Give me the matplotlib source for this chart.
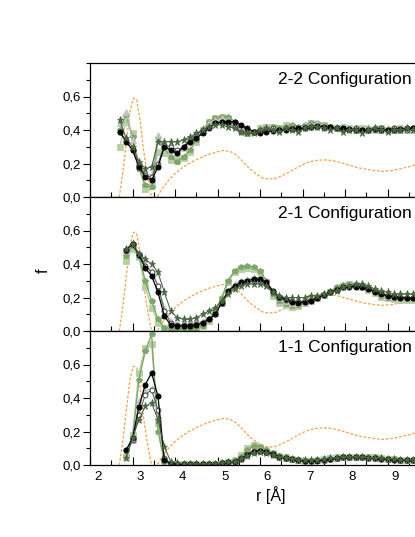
import matplotlib
matplotlib.use("Agg")
import matplotlib.pyplot as plt
from matplotlib.ticker import FixedLocator, MultipleLocator
from matplotlib.transforms import ScaledTranslation

plt.rcParams['font.family'] = ['Liberation Sans', 'DejaVu Sans']

# r grid of the simulation points (2-2 panel starts one step earlier)
R1 = [2.70, 2.85, 3.00, 3.15, 3.30, 3.45, 3.60, 3.75, 3.90, 4.05, 4.20, 4.35,
      4.50, 4.65, 4.80, 4.95, 5.10, 5.25, 5.40, 5.55, 5.70, 5.85, 6.00, 6.15,
      6.30, 6.45, 6.60, 6.75, 6.90, 7.05, 7.20, 7.35, 7.50, 7.65, 7.80, 7.95,
      8.10, 8.25, 8.40, 8.55, 8.70, 8.85, 9.00, 9.15, 9.30, 9.45, 9.60, 9.75]
R2 = R1[1:]

# reference curve (orange dashed), same in every panel
ORANGE_R = [2.60, 2.69, 2.78, 2.86, 2.94, 3.02, 3.10, 3.18, 3.25, 3.33, 3.43, 3.50,
            3.58, 3.70, 3.85, 4.00, 4.20, 4.40, 4.60, 4.80, 5.00, 5.15, 5.30, 5.45,
            5.60, 5.75, 5.90, 6.05, 6.20, 6.35, 6.50, 6.70, 6.90, 7.10, 7.30, 7.50,
            7.70, 7.90, 8.10, 8.30, 8.50, 8.70, 8.90, 9.10, 9.30, 9.50, 9.70]
ORANGE_F = [-0.05, 0.0, 0.16, 0.34, 0.51, 0.59, 0.58, 0.46, 0.30, 0.16, 0.02, -0.02,
            0.0, 0.05, 0.10, 0.14, 0.18, 0.21, 0.235, 0.255, 0.27, 0.278, 0.272, 0.25,
            0.21, 0.17, 0.14, 0.115, 0.107, 0.11, 0.125, 0.15, 0.18, 0.205, 0.218, 0.222,
            0.218, 0.205, 0.19, 0.175, 0.165, 0.157, 0.153, 0.158, 0.168, 0.18, 0.195]

# 2-2 configuration
P1_BLACK = [0.39, 0.33, 0.28, 0.18, 0.12, 0.10, 0.18, 0.30, 0.28, 0.26, 0.30, 0.33,
            0.35, 0.38, 0.41, 0.44, 0.45, 0.45, 0.45, 0.43, 0.41, 0.39, 0.385, 0.39,
            0.395, 0.40, 0.40, 0.405, 0.41, 0.41, 0.415, 0.425, 0.42, 0.415, 0.41, 0.41,
            0.405, 0.40, 0.40, 0.40, 0.405, 0.40, 0.40, 0.40, 0.405, 0.41, 0.41, 0.41]
P1_STAR = [0.46, 0.35, 0.30, 0.21, 0.17, 0.18, 0.33, 0.33, 0.33, 0.33, 0.34, 0.36,
           0.38, 0.40, 0.42, 0.43, 0.43, 0.42, 0.41, 0.39, 0.38, 0.38, 0.40, 0.41,
           0.40, 0.39, 0.41, 0.40, 0.39, 0.41, 0.42, 0.42, 0.41, 0.40, 0.41, 0.39,
           0.40, 0.40, 0.38, 0.40, 0.41, 0.40, 0.39, 0.40, 0.40, 0.41, 0.40, 0.40]
P1_GRAY = [0.44, 0.51, 0.34, 0.20, 0.14, 0.13, 0.37, 0.30, 0.28, 0.26, 0.29, 0.33,
           0.37, 0.41, 0.44, 0.46, 0.47, 0.46, 0.44, 0.41, 0.39, 0.39, 0.40, 0.42,
           0.41, 0.40, 0.42, 0.42, 0.41, 0.43, 0.43, 0.44, 0.43, 0.42, 0.41, 0.42,
           0.41, 0.40, 0.41, 0.42, 0.41, 0.40, 0.41, 0.40, 0.40, 0.41, 0.41, 0.41]
P1_GREEN = [0.40, 0.49, 0.36, 0.17, 0.07, 0.06, 0.35, 0.29, 0.24, 0.21, 0.24, 0.28,
            0.34, 0.40, 0.45, 0.47, 0.48, 0.48, 0.45, 0.41, 0.38, 0.38, 0.40, 0.41,
            0.42, 0.41, 0.42, 0.43, 0.42, 0.43, 0.44, 0.44, 0.43, 0.42, 0.41, 0.41,
            0.40, 0.41, 0.40, 0.41, 0.40, 0.41, 0.40, 0.41, 0.40, 0.40, 0.41, 0.41]
P1_LIGHT = [0.30, 0.45, 0.38, 0.20, 0.05, 0.07, 0.27, 0.26, 0.22, 0.22, 0.23, 0.27,
            0.33, 0.40, 0.45, 0.47, 0.48, 0.46, 0.43, 0.40, 0.38, 0.39, 0.41, 0.42,
            0.42, 0.41, 0.43, 0.42, 0.41, 0.42, 0.44, 0.43, 0.43, 0.42, 0.41, 0.42,
            0.41, 0.40, 0.41, 0.40, 0.40, 0.41, 0.40, 0.40, 0.41, 0.40, 0.40, 0.40]
P1_OPEN = [0.39, 0.34, 0.28, 0.19, 0.13, 0.12, 0.20, 0.31, 0.30, 0.28, 0.30, 0.34,
           0.37, 0.40, 0.42, 0.44, 0.445, 0.44, 0.42, 0.39, 0.38, 0.39, 0.40, 0.40,
           0.41, 0.40, 0.41, 0.41, 0.40, 0.42, 0.42, 0.42, 0.41, 0.42, 0.41, 0.40,
           0.40, 0.41, 0.40, 0.40, 0.41, 0.41, 0.40, 0.41, 0.40, 0.40, 0.41, 0.41]

# 2-1 configuration
P2_BLACK = [0.485, 0.52, 0.455, 0.375, 0.33, 0.23, 0.09, 0.035, 0.03, 0.03, 0.03, 0.035,
            0.05, 0.07, 0.10, 0.17, 0.24, 0.27, 0.29, 0.30, 0.31, 0.31, 0.29, 0.24,
            0.205, 0.19, 0.175, 0.17, 0.175, 0.18, 0.195, 0.215, 0.23, 0.245, 0.26, 0.265,
            0.265, 0.26, 0.25, 0.235, 0.22, 0.21, 0.205, 0.20, 0.20, 0.195, 0.195]
P2_STAR = [0.49, 0.52, 0.46, 0.43, 0.40, 0.35, 0.23, 0.12, 0.08, 0.07, 0.07, 0.08,
           0.10, 0.12, 0.14, 0.18, 0.22, 0.25, 0.27, 0.28, 0.28, 0.28, 0.27, 0.23,
           0.21, 0.20, 0.20, 0.20, 0.20, 0.21, 0.21, 0.22, 0.23, 0.24, 0.26, 0.27,
           0.28, 0.28, 0.27, 0.25, 0.24, 0.23, 0.22, 0.22, 0.22, 0.22, 0.21]
P2_GRAY = [0.48, 0.53, 0.46, 0.40, 0.36, 0.27, 0.14, 0.06, 0.04, 0.04, 0.04, 0.05,
           0.06, 0.08, 0.11, 0.17, 0.24, 0.28, 0.30, 0.31, 0.32, 0.32, 0.30, 0.24,
           0.20, 0.18, 0.17, 0.17, 0.17, 0.18, 0.20, 0.22, 0.24, 0.25, 0.27, 0.28,
           0.28, 0.27, 0.26, 0.24, 0.22, 0.21, 0.21, 0.20, 0.20, 0.20, 0.20]
P2_GREEN = [0.45, 0.51, 0.45, 0.30, 0.18, 0.07, 0.02, 0.01, 0.01, 0.01, 0.01, 0.015,
            0.03, 0.07, 0.12, 0.20, 0.30, 0.36, 0.385, 0.39, 0.38, 0.36, 0.30, 0.22,
            0.18, 0.16, 0.15, 0.155, 0.17, 0.185, 0.20, 0.22, 0.24, 0.26, 0.275, 0.28,
            0.275, 0.27, 0.25, 0.23, 0.21, 0.20, 0.195, 0.19, 0.19, 0.19, 0.19]
P2_LIGHT = [0.42, 0.49, 0.44, 0.26, 0.14, 0.05, 0.015, 0.01, 0.01, 0.01, 0.01, 0.015,
            0.03, 0.06, 0.11, 0.19, 0.29, 0.35, 0.37, 0.375, 0.37, 0.35, 0.29, 0.21,
            0.17, 0.155, 0.145, 0.15, 0.165, 0.18, 0.195, 0.215, 0.235, 0.255, 0.27, 0.28,
            0.275, 0.265, 0.245, 0.225, 0.205, 0.195, 0.19, 0.185, 0.185, 0.185, 0.185]
P2_OPEN = [0.48, 0.52, 0.46, 0.39, 0.35, 0.27, 0.12, 0.045, 0.035, 0.035, 0.035, 0.04,
           0.05, 0.07, 0.10, 0.17, 0.23, 0.26, 0.28, 0.29, 0.30, 0.30, 0.28, 0.23,
           0.20, 0.185, 0.18, 0.175, 0.18, 0.185, 0.20, 0.215, 0.235, 0.25, 0.26, 0.27,
           0.27, 0.265, 0.255, 0.24, 0.225, 0.215, 0.21, 0.205, 0.20, 0.20, 0.20]

# 1-1 configuration
P3_BLACK = [0.09, 0.16, 0.345, 0.48, 0.55, 0.41, 0.03, 0.01, 0.005, 0.005, 0.005, 0.005,
            0.005, 0.005, 0.008, 0.01, 0.015, 0.02, 0.035, 0.06, 0.08, 0.085, 0.08, 0.065,
            0.05, 0.04, 0.035, 0.03, 0.025, 0.025, 0.025, 0.03, 0.035, 0.04, 0.045, 0.045,
            0.045, 0.045, 0.04, 0.04, 0.035, 0.035, 0.03, 0.03, 0.03, 0.03, 0.03]
P3_STAR = [0.04, 0.16, 0.27, 0.35, 0.37, 0.27, 0.11, 0.02, 0.01, 0.005, 0.005, 0.005,
           0.005, 0.005, 0.008, 0.01, 0.015, 0.02, 0.035, 0.055, 0.07, 0.075, 0.07, 0.06,
           0.05, 0.04, 0.035, 0.03, 0.03, 0.03, 0.03, 0.035, 0.04, 0.04, 0.045, 0.045,
           0.045, 0.045, 0.04, 0.04, 0.04, 0.035, 0.035, 0.03, 0.03, 0.03, 0.03]
P3_GRAY = [0.07, 0.15, 0.38, 0.44, 0.46, 0.30, 0.04, 0.01, 0.005, 0.005, 0.005, 0.005,
           0.005, 0.005, 0.008, 0.01, 0.015, 0.025, 0.04, 0.07, 0.09, 0.09, 0.08, 0.065,
           0.05, 0.04, 0.035, 0.03, 0.025, 0.025, 0.03, 0.03, 0.035, 0.04, 0.045, 0.05,
           0.05, 0.045, 0.045, 0.04, 0.04, 0.035, 0.035, 0.03, 0.03, 0.03, 0.03]
P3_GREEN = [0.06, 0.15, 0.51, 0.68, 0.78, 0.20, 0.02, 0.005, 0.003, 0.003, 0.003, 0.003,
            0.003, 0.005, 0.008, 0.01, 0.015, 0.025, 0.05, 0.09, 0.115, 0.11, 0.09, 0.07,
            0.055, 0.045, 0.035, 0.03, 0.025, 0.025, 0.03, 0.03, 0.035, 0.04, 0.045, 0.05,
            0.05, 0.05, 0.045, 0.045, 0.04, 0.035, 0.035, 0.03, 0.03, 0.03, 0.03]
P3_LIGHT = [0.05, 0.18, 0.55, 0.70, 0.72, 0.25, 0.03, 0.005, 0.003, 0.003, 0.003, 0.003,
            0.003, 0.005, 0.008, 0.01, 0.015, 0.03, 0.06, 0.10, 0.12, 0.11, 0.09, 0.07,
            0.055, 0.045, 0.035, 0.03, 0.025, 0.025, 0.03, 0.035, 0.04, 0.045, 0.05, 0.05,
            0.05, 0.05, 0.045, 0.045, 0.04, 0.035, 0.035, 0.03, 0.03, 0.03, 0.03]
P3_OPEN = [0.09, 0.15, 0.30, 0.42, 0.45, 0.33, 0.04, 0.01, 0.005, 0.005, 0.005, 0.005,
           0.005, 0.005, 0.008, 0.01, 0.015, 0.025, 0.04, 0.065, 0.085, 0.085, 0.075, 0.06,
           0.05, 0.04, 0.035, 0.03, 0.025, 0.025, 0.03, 0.03, 0.035, 0.04, 0.045, 0.045,
           0.045, 0.045, 0.04, 0.04, 0.035, 0.035, 0.03, 0.03, 0.03, 0.03, 0.03]

TITLES = ["2-2 Configuration", "2-1 Configuration", "1-1 Configuration"]
Y_TICKS = [0.0, 0.2, 0.4, 0.6]
Y_LABELS = ["0,0", "0,2", "0,4", "0,6"]
X_TICKS = [2, 3, 4, 5, 6, 7, 8, 9]

# (key, marker, size, face, edge, line colour, line width) in drawing order
STYLES = [
    ("light", "s", 3.8, "#b5cfa4", "#b5cfa4", "#b5cfa4", 1.0),
    ("green", "p", 4.2, "#7ea66a", "#7ea66a", "#7ea66a", 1.0),
    ("gray", "^", 4.2, "#c3c3c3", "#c3c3c3", "#b5b5b5", 0.8),
    ("open", "o", 3.5, "white", "#2a2a2a", "#555555", 0.7),
    ("black", "o", 3.7, "black", "black", "black", 0.9),
    ("star", "*", 5.2, "#4b6642", "#4b6642", "#3f5638", 0.7),
]


def draw_panel(ax, r, series, title):
    ax.plot(ORANGE_R, ORANGE_F, color="#f7a04a", lw=0.9, dashes=(2.2, 1.4), zorder=1)
    for key, marker, ms, fc, ec, lc, lw in STYLES:
        ax.plot(r, series[key], color=lc, lw=lw, marker=marker, ms=ms,
                mfc=fc, mec=ec, mew=0.6, zorder=2)
    ax.set_xlim(2, 10)
    ax.set_ylim(0, 0.8)
    ax.yaxis.set_major_locator(FixedLocator(Y_TICKS))
    ax.set_yticklabels(Y_LABELS)
    ax.yaxis.set_minor_locator(MultipleLocator(0.1))
    ax.xaxis.set_major_locator(FixedLocator(X_TICKS))
    ax.xaxis.set_minor_locator(MultipleLocator(0.5))
    ax.tick_params(axis="y", which="major", direction="out", length=5, width=0.8,
                   labelsize=9.5, pad=1.5)
    ax.tick_params(axis="y", which="minor", direction="out", length=3, width=0.8)
    ax.tick_params(axis="x", which="major", direction="in", length=6, width=0.8,
                   labelsize=9.5, pad=4)
    ax.tick_params(axis="x", which="minor", direction="in", length=3.5, width=0.8)
    for sp in ax.spines.values():
        sp.set_linewidth(0.9)
    ax.spines["right"].set_visible(False)
    ax.text(0.553, 0.845, title, transform=ax.transAxes, fontsize=12.5,
            ha="left", va="baseline")


fig = plt.figure(figsize=(4.15, 5.37), dpi=100)
left, width, height = 90 / 415, 340 / 415, 134 / 537
bottoms = [(537 - 197) / 537, (537 - 331) / 537, (537 - 465) / 537]
axes = [fig.add_axes([left, b, width, height]) for b in bottoms]

panels = [
    (R1, {"black": P1_BLACK, "star": P1_STAR, "gray": P1_GRAY,
          "green": P1_GREEN, "light": P1_LIGHT, "open": P1_OPEN}),
    (R2, {"black": P2_BLACK, "star": P2_STAR, "gray": P2_GRAY,
          "green": P2_GREEN, "light": P2_LIGHT, "open": P2_OPEN}),
    (R2, {"black": P3_BLACK, "star": P3_STAR, "gray": P3_GRAY,
          "green": P3_GREEN, "light": P3_LIGHT, "open": P3_OPEN}),
]

for ax, (r, series), title in zip(axes, panels, TITLES):
    draw_panel(ax, r, series, title)

axes[0].tick_params(axis="x", labelbottom=False)
axes[1].tick_params(axis="x", labelbottom=False)

# tick numbers on the r axis sit a little right of their ticks in the original
shift = ScaledTranslation(7.5 / 100, 0, fig.dpi_scale_trans)
axes[2].set_xticklabels([str(t) for t in X_TICKS])
for lab in axes[2].get_xticklabels():
    lab.set_transform(lab.get_transform() + shift)

axes[2].set_xlabel("r [Å]", fontsize=11.5)
axes[2].xaxis.set_label_coords(0.532, -0.16)
fig.text(43 / 415, 1 - 271 / 537, "f", rotation=90, fontsize=11.5,
         ha="center", va="center")

fig.savefig("out.png", dpi=100)
